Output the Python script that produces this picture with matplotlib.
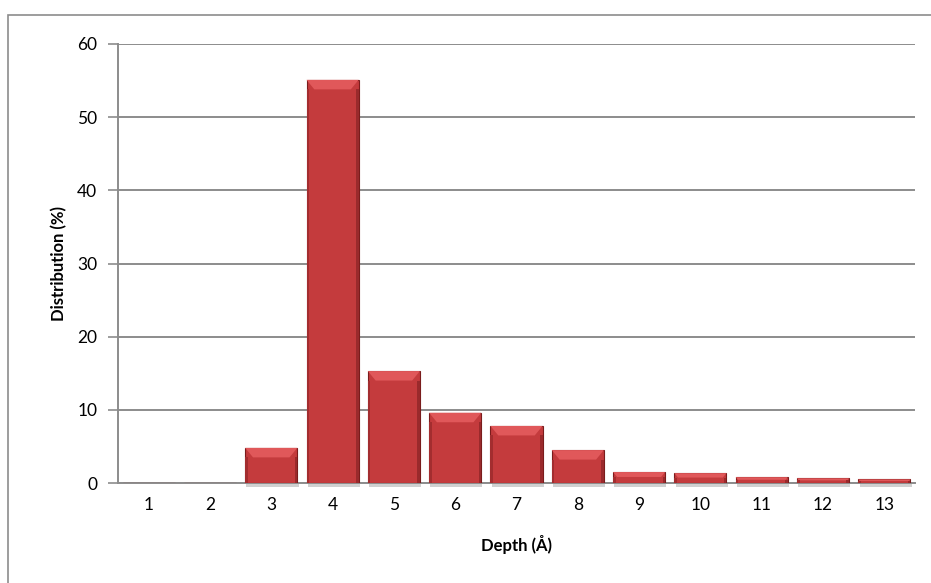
import numpy as np
import matplotlib
matplotlib.use('Agg')
import matplotlib.pyplot as plt
from matplotlib.patches import Polygon, Rectangle

# depth bins (Angstrom) and distribution (%)
depths = ['1', '2', '3', '4', '5', '6', '7', '8', '9', '10', '11', '12', '13']
dist = [0, 0, 4.8, 55.1, 15.3, 9.6, 7.8, 4.5, 1.5, 1.35, 0.8, 0.65, 0.5]

plt.rcParams['font.family'] = ['Lato', 'DejaVu Sans']

fig = plt.figure(figsize=(9.31, 5.83), dpi=100)
# outer chart border (Excel style)
fig.patches.append(Rectangle((8/931, -0.1), 1.1, 1 - 15/583 + 0.1, transform=fig.transFigure,
                             fill=False, edgecolor='#8c8c8c', linewidth=1.2))
ax = fig.add_axes([118/931, 1 - 483/583, (915-118)/931, (483-44)/583])

x = np.arange(len(depths))
bw = 0.85
bars = ax.bar(x, dist, width=bw, color='#c43b3d', edgecolor='#7a1c1c', linewidth=0.8, zorder=3)

# fake bevel on top of each bar
bev = 1.3
for b, v in zip(bars, dist):
    if v <= 0:
        continue
    x0 = b.get_x()
    w = b.get_width()
    h = min(bev, v * 0.45)
    inset = w * 0.15 * h / bev
    ax.add_patch(Polygon([[x0, v], [x0 + w, v], [x0 + w - inset, v - h], [x0 + inset, v - h]],
                         closed=True, facecolor='#e0585a', edgecolor='none', zorder=4))
    # darker sides
    ax.add_patch(Rectangle((x0, 0), w * 0.05, v - h, facecolor='#a32d2f', edgecolor='none', zorder=4))
    ax.add_patch(Rectangle((x0 + w * 0.95, 0), w * 0.05, v - h, facecolor='#9a2a2c', edgecolor='none', zorder=4))
    # soft shadow under bar
    ax.add_patch(Rectangle((x0 + 0.02, -0.5), w, 0.5, facecolor='#d0d0d0', edgecolor='none',
                           zorder=2, clip_on=False))

ax.set_xlim(-0.5, len(depths) - 0.5)
ax.set_ylim(0, 60)
ax.set_yticks(range(0, 61, 10))
ax.set_xticks(x)
ax.set_xticklabels(depths)
ax.yaxis.grid(True, color='#8c8c8c', linewidth=1.4, zorder=0)
ax.set_axisbelow(True)

for s in ['top', 'right']:
    ax.spines[s].set_visible(False)
ax.spines['left'].set_color('#8c8c8c')
ax.spines['bottom'].set_color('#8c8c8c')
ax.spines['left'].set_linewidth(1.4)
ax.spines['bottom'].set_linewidth(1.4)
ax.tick_params(axis='y', length=7, color='#8c8c8c', width=1.2, labelsize=12.5, pad=8)
ax.tick_params(axis='x', length=0, labelsize=12.5, pad=10)

ax.set_xlabel('Depth (Å)', fontsize=12, fontweight='bold', labelpad=16)
ax.set_ylabel('Distribution (%)', fontsize=12, fontweight='bold', labelpad=7)

fig.savefig('out.png', dpi=100)
